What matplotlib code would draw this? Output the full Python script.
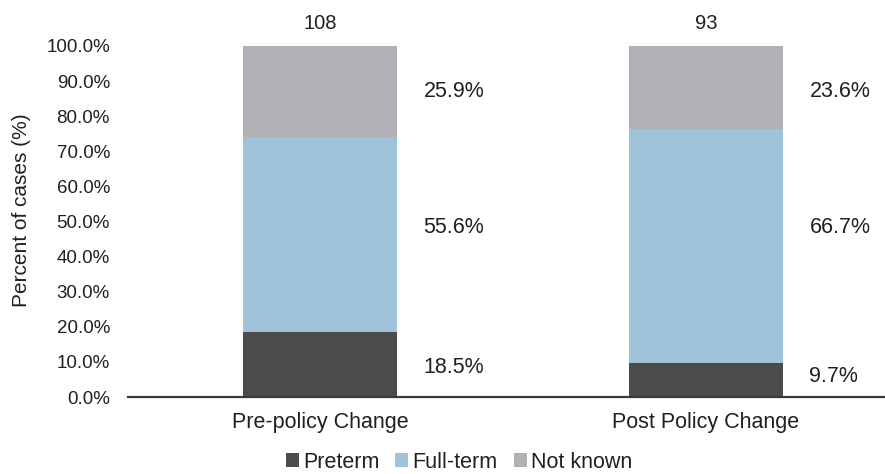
import matplotlib.pyplot as plt
import numpy as np

plt.rcParams['font.family'] = ['Liberation Sans', 'DejaVu Sans']

# data
categories = ["Pre-policy Change", "Post Policy Change"]
totals = [108, 93]
series_names = ["Preterm", "Full-term", "Not known"]
preterm = [18.5, 9.7]
full_term = [55.6, 66.7]
not_known = [25.9, 23.6]

colors = ["#4a4b4d", "#a0c3da", "#b1b1b5"]
text_color = "#231f20"

# where the value labels sit (text placement only, per category)
label_heights = [[8.3, 48.4, 86.9], [5.7, 48.4, 86.9]]

fig = plt.figure(figsize=(8.85, 4.74), dpi=100)
ax = fig.add_axes([128 / 885, 77 / 474, 757 / 885, 351 / 474])

x = np.arange(len(categories))
width = 0.4
bottom = np.zeros(len(categories))
for name, vals, col in zip(series_names, [preterm, full_term, not_known], colors):
    ax.bar(x, vals, width, bottom=bottom, color=col, label=name, zorder=2)
    bottom += np.array(vals)

# percentage labels to the right of each bar
for i, vals in enumerate(zip(preterm, full_term, not_known)):
    for v, h in zip(vals, label_heights[i]):
        ax.annotate(f"{v:.1f}%", xy=(x[i] + width / 2, h), xytext=(19, 0),
                    textcoords="offset points", ha="left", va="center",
                    fontsize=15.5, color=text_color)

# totals on top
for i, t in enumerate(totals):
    ax.annotate(str(t), xy=(x[i], 100), xytext=(0, 16.5), textcoords="offset points",
                ha="center", va="center", fontsize=14.5, color=text_color)

ax.set_ylim(0, 100)
ax.set_xlim(-0.497, 1.464)
ax.set_yticks(np.arange(0, 101, 10))
ax.set_yticklabels([f"{v:.1f}%" for v in np.arange(0, 101, 10)])
ax.set_xticks(x)
ax.set_xticklabels(categories)
ax.tick_params(axis="y", length=0, pad=13, labelsize=13.5, labelcolor=text_color)
ax.tick_params(axis="x", length=0, pad=11, labelsize=15.5, labelcolor=text_color)

for s in ["top", "right", "left"]:
    ax.spines[s].set_visible(False)
ax.spines["bottom"].set_color("#3a3a3a")
ax.spines["bottom"].set_linewidth(1.6)
ax.spines["bottom"].set_zorder(3)

fig.text(22 / 885, 1 - 210 / 474, "Percent of cases (%)", rotation=90,
         ha="center", va="center", fontsize=15, color=text_color)

fig.legend(loc="center", bbox_to_anchor=(459 / 885, 1 - 462 / 474), ncol=3,
           frameon=False, fontsize=15.5, handlelength=0.6, handleheight=0.6,
           handletextpad=0.2, columnspacing=0.75, labelcolor=text_color,
           borderaxespad=0, borderpad=0)

fig.savefig("out.png", dpi=100)
